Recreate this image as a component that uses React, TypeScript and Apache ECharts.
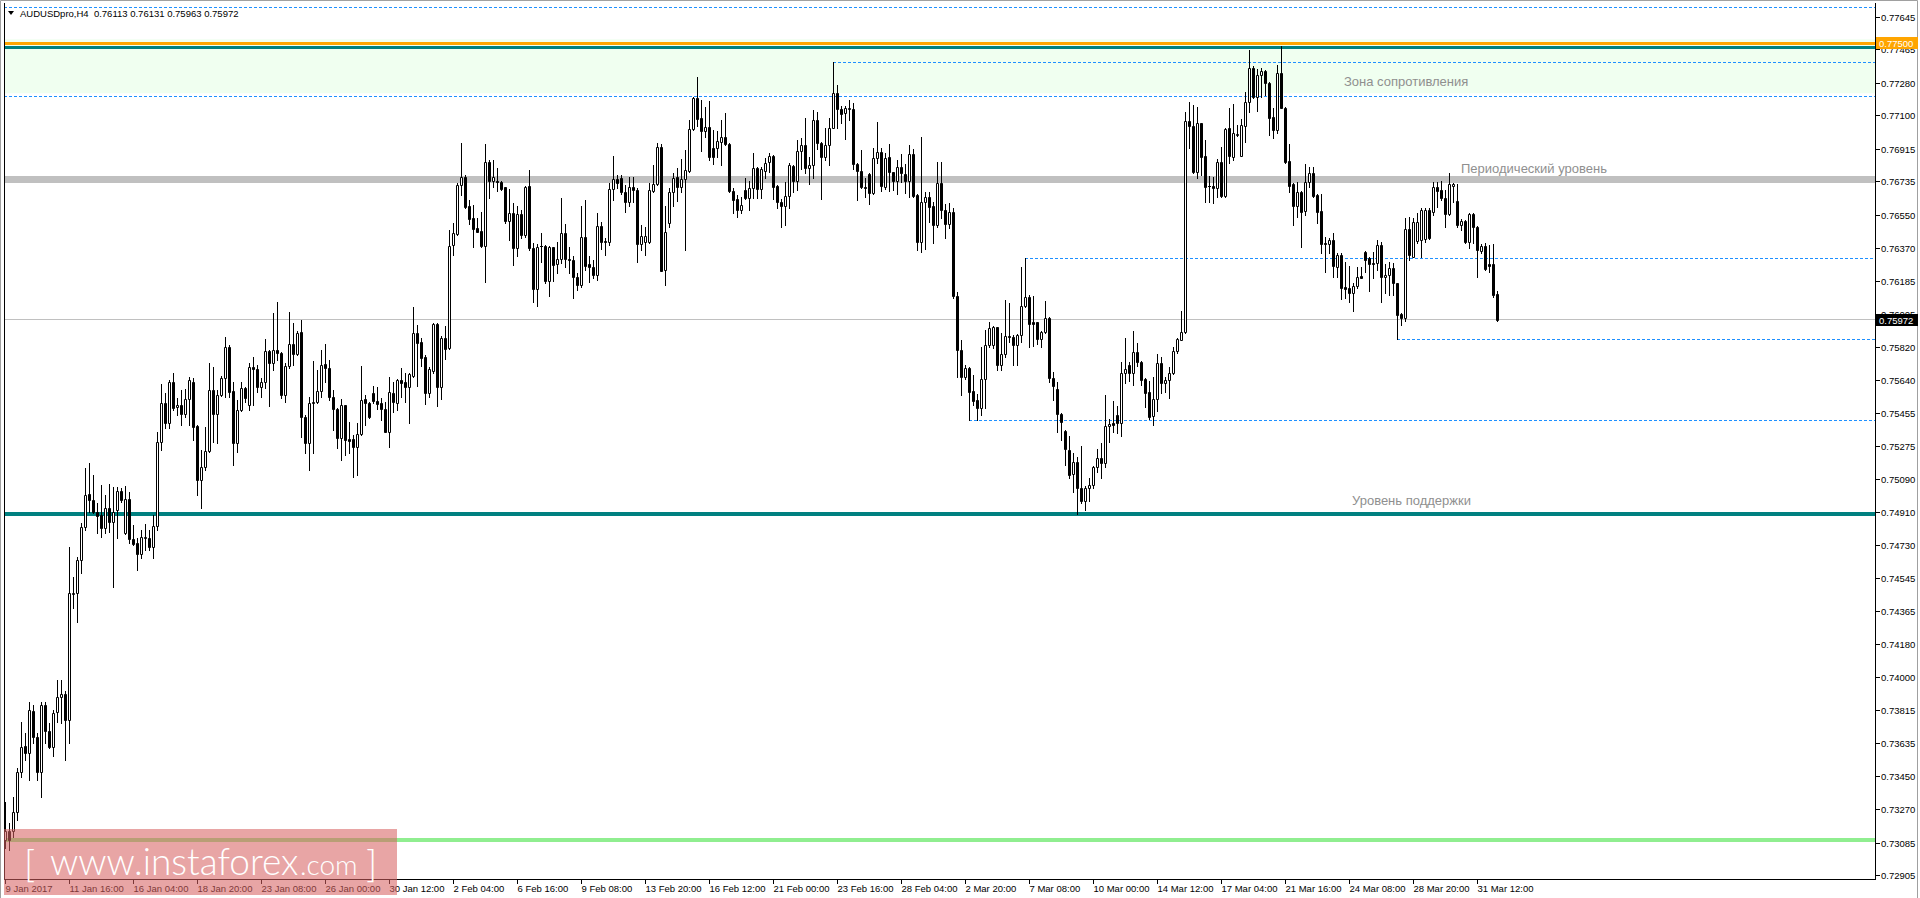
import { useEffect, useRef } from "react";
import * as echarts from "echarts";

// Prices in points (price × 100000), one value per H4 bar
const openPts = [
  73100,73146,73146,73256,73477,73619,73582,73812,73670,73477,
  73845,73698,73615,73808,73887,73906,73762,74458,74461,74645,
  74829,75010,74977,74912,74894,74820,74931,74857,74921,75026,
  74793,74982,74759,74737,74679,74769,74765,74719,74835,75299,
  75514,75403,75626,75488,75501,75449,75534,75630,75385,75087,
  75161,75249,75584,75451,75556,75648,75823,75580,75293,75473,
  75593,75501,75713,75698,75599,75626,75799,75731,75805,75786,
  75556,75716,75836,75781,75902,75433,75289,75510,75516,75578,
  75727,75703,75547,75477,75317,75499,75311,75311,75267,75339,
  75532,75510,75565,75525,75510,75477,75354,75565,75514,75639,
  75630,75602,75663,75897,75847,75764,75569,75691,75948,75602,
  75869,75814,76384,76445,76715,76761,76599,76531,76476,76461,
  76379,76844,76740,76738,76731,76703,76519,76560,76370,76556,
  76437,76711,76367,76144,76378,76380,76188,76372,76278,76306,
  76449,76308,76300,76207,76161,76427,76280,76262,76216,76490,
  76405,76402,76694,76749,76755,76676,76624,76707,76689,76389,
  76400,76400,76685,76722,76928,76247,76505,76676,76762,76703,
  76751,76795,77023,77195,77084,77016,77035,76919,76919,76952,
  76979,76941,76685,76637,76575,76689,76646,76698,76808,76694,
  76795,76841,76876,76711,76624,76597,76657,76821,76740,76904,
  76937,76808,76827,77075,76946,76869,76937,77033,77222,77134,
  77112,77138,77136,76830,76795,76705,76775,76670,76863,76900,
  76707,76869,76786,76735,76814,76777,76740,76887,76661,76403,
  76621,76648,76600,76492,76729,76578,76501,76569,76103,75805,
  75658,75704,75579,75529,75483,75643,75833,75833,75930,75722,
  75783,75882,75879,75833,75888,76050,76096,75958,75958,75864,
  75906,75980,75649,75588,75450,75358,75253,75119,75185,75041,
  74968,75041,75060,75157,75207,75179,75385,75400,75443,75400,
  75680,75722,75676,75792,75737,75643,75571,75441,75533,75731,
  75621,75639,75680,75801,75860,75906,77071,77041,76789,77056,
  76876,76712,76710,76697,76841,76657,77028,76868,76993,76878,
  77043,77172,77360,77200,77323,77347,77277,77089,77019,77332,
  77142,76848,76719,76602,76675,76572,76730,76780,76660,76572,
  76397,76390,76412,76265,76329,76154,76145,76118,76158,76213,
  76348,76311,76287,76283,76384,76206,76219,76259,76173,76004,
  75980,76473,76320,76408,76412,76418,76578,76568,76706,76688,
  76642,76556,76712,76627,76495,76517,76403,76554,76486,76353,
  76379,76280,76280,76113,
];
const highPts = [
  73306,73192,73339,73495,73753,73689,73863,73845,73689,73863,
  73863,73744,73817,73983,73983,73919,74719,74553,74664,74848,
  75151,75179,75115,74958,75059,75004,75065,75050,75050,75041,
  75056,75023,74839,74765,74811,74844,74811,74894,75354,75615,
  75565,75639,75676,75538,75584,75587,75657,75648,75391,75253,
  75381,75731,75709,75584,75661,75878,75832,75630,75529,75630,
  75602,75731,75768,75722,75648,75863,75805,76011,76071,75795,
  75731,76016,75952,75909,75970,75446,75547,75746,75694,75805,
  75838,75749,75584,75483,75532,75501,75405,75335,75400,75716,
  75556,75519,75606,75599,75538,75519,75657,75630,75642,75703,
  75676,75679,76044,75943,75869,75777,75713,75955,75955,75882,
  75937,76467,76504,76725,76945,76771,76633,76605,76531,76568,
  76942,76853,76854,76808,76735,76707,76692,76615,76597,76578,
  76711,76799,76394,76391,76449,76385,76380,76376,76400,76643,
  76501,76376,76321,76229,76597,76633,76321,76299,76560,76514,
  76422,76725,76876,76771,76771,76716,76759,76759,76698,76492,
  76486,76725,76827,76946,76943,76600,76698,76781,76808,76858,
  76909,77075,77200,77311,77185,77145,77182,77020,77014,77075,
  77112,76946,76698,76661,76652,76753,76738,76891,76817,76817,
  76867,76891,76882,76716,76637,76731,76836,76825,76965,76977,
  77088,76873,77130,77121,76955,77033,77084,77393,77268,77154,
  77152,77185,77167,76839,76909,76753,76784,76922,77062,76919,
  76891,76941,76790,76854,76885,76830,76937,76915,76665,76981,
  76676,76679,76624,76841,76841,76609,76615,76587,76127,75861,
  75723,75713,75667,75561,75823,75915,75961,75938,75934,75901,
  76081,76063,75888,75893,76261,76311,76109,76103,75961,75912,
  76077,75989,75685,75630,75455,75363,75330,75238,75213,75275,
  75051,75097,75165,75257,75293,75557,75422,75525,75496,75741,
  75869,75741,75910,75842,75746,75649,75634,75658,75783,75768,
  75658,75713,75823,75869,76020,77121,77176,77157,77145,77060,
  76964,76765,76762,76857,76927,77029,77139,77163,77047,77080,
  77231,77461,77372,77354,77360,77350,77286,77139,77378,77483,
  77148,76942,76725,76734,76682,76832,76817,76817,76666,76666,
  76430,76421,76452,76338,76338,76292,76268,76176,76265,76265,
  76353,76320,76348,76412,76403,76280,76292,76283,76177,76007,
  76532,76541,76532,76559,76587,76587,76587,76734,76734,76740,
  76688,76780,76728,76721,76526,76522,76559,76559,76491,76388,
  76394,76384,76390,76131,
];
const lowPts = [
  73054,73045,73118,73210,73449,73541,73431,73633,73431,73339,
  73633,73606,73560,73753,73744,73541,73633,74379,74305,74572,
  74811,74912,74903,74793,74774,74793,74802,74498,74765,74967,
  74789,74737,74728,74587,74655,74701,74701,74655,74811,75253,
  75372,75372,75473,75446,75391,75437,75391,75308,75004,74931,
  75142,75243,75299,75289,75550,75547,75547,75170,75243,75468,
  75519,75473,75501,75575,75547,75593,75495,75694,75749,75538,
  75519,75703,75722,75777,75326,75238,75142,75238,75510,75547,
  75630,75529,75363,75262,75197,75225,75234,75102,75115,75335,
  75391,75427,75514,75477,75418,75350,75267,75464,75473,75547,
  75519,75403,75654,75606,75716,75507,75547,75679,75495,75532,
  75753,75808,76329,76439,76660,76587,76500,76375,76455,76375,
  76182,76642,76703,76685,76689,76505,76413,76275,76321,76425,
  76431,76357,76069,76045,76293,76177,76103,76183,76229,76287,
  76265,76229,76091,76137,76151,76247,76179,76201,76192,76361,
  76330,76385,76633,76698,76667,76569,76597,76624,76293,76357,
  76330,76394,76679,76716,76238,76164,76483,76597,76630,76679,
  76357,76790,77020,77042,76906,76983,76854,76830,76873,76827,
  76937,76679,76560,76541,76560,76639,76575,76646,76646,76646,
  76757,76786,76639,76587,76481,76495,76587,76679,76689,76803,
  76781,76720,76753,76915,76639,76854,76827,77029,77033,77057,
  76970,77075,76805,76633,76698,76648,76609,76665,76836,76685,
  76692,76685,76689,76665,76731,76670,76648,76652,76354,76348,
  76363,76510,76398,76486,76536,76425,76477,76094,75658,75557,
  75643,75419,75502,75419,75446,75483,75820,75814,75695,75695,
  75765,75851,75722,75722,75851,76044,75823,75827,75838,75823,
  75901,75630,75529,75354,75305,75170,75097,75023,74900,74962,
  74922,74968,75041,75133,75100,75157,75299,75349,75345,75327,
  75621,75634,75612,75717,75612,75489,75422,75391,75470,75569,
  75575,75538,75673,75787,75857,75897,76918,76780,76753,76771,
  76624,76624,76615,76651,76651,76651,76839,76854,76986,76874,
  76955,77120,77194,77126,77203,77212,76992,76977,77001,77139,
  76835,76679,76495,76541,76375,76550,76706,76651,76504,76338,
  76234,76338,76210,76206,76086,76090,76072,76022,76145,76200,
  76237,76132,76200,76246,76072,76118,76108,76108,75866,75943,
  75967,76302,76316,76394,76320,76403,76418,76550,76596,76633,
  76486,76550,76624,76486,76467,76394,76366,76394,76210,76338,
  76246,76237,76099,75963,
];
const closePts = [
  73146,73100,73256,73477,73615,73582,73817,73670,73477,73845,
  73698,73615,73799,73891,73904,73762,74461,74461,74645,74829,
  75004,74977,74912,74888,74820,74931,74857,74912,75026,74977,
  74982,74759,74732,74679,74771,74773,74715,74835,75299,75514,
  75403,75626,75486,75501,75449,75534,75639,75381,75087,75161,
  75249,75584,75451,75556,75648,75823,75575,75289,75473,75593,
  75538,75709,75698,75599,75626,75799,75731,75805,75786,75556,
  75716,75836,75781,75900,75433,75289,75510,75519,75578,75720,
  75703,75547,75477,75317,75499,75308,75304,75267,75339,75529,
  75510,75433,75525,75507,75477,75354,75571,75519,75639,75624,
  75602,75672,75897,75841,75762,75569,75698,75948,75602,75873,
  75810,76381,76449,76715,76761,76596,76526,76473,76458,76379,
  76844,76739,76759,76731,76692,76519,76560,76370,76556,76437,
  76703,76367,76144,76372,76381,76188,76372,76275,76306,76449,
  76306,76300,76207,76161,76427,76271,76262,76216,76490,76403,
  76400,76694,76747,76725,76676,76624,76707,76689,76389,76435,
  76435,76689,76722,76928,76243,76455,76676,76757,76703,76751,
  76799,77023,77195,77079,77016,77035,76869,76869,76959,76979,
  76941,76685,76633,76575,76606,76646,76698,76808,76694,76805,
  76836,76876,76707,76621,76597,76657,76827,76740,76904,76937,
  76808,76827,77075,76946,76869,76937,77033,77222,77134,77106,
  77139,77141,76830,76795,76703,76701,76670,76863,76900,76711,
  76863,76786,76735,76814,76781,76740,76887,76657,76403,76621,
  76648,76593,76492,76729,76575,76501,76569,76100,75802,75658,
  75704,75575,75524,75483,75643,75833,75925,75934,75722,75783,
  75882,75875,75833,75888,76050,76096,75947,75949,75864,75906,
  75980,75649,75603,75450,75406,75257,75115,75185,75041,74968,
  75041,75060,75157,75207,75179,75387,75395,75391,75400,75680,
  75698,75676,75792,75737,75639,75566,75437,75533,75731,75621,
  75639,75680,75801,75864,75906,77071,77043,76789,77056,76872,
  76707,76709,76697,76841,76657,77025,76876,77001,76997,77047,
  77172,77360,77200,77323,77347,77277,77087,77019,77332,77142,
  76841,76712,76602,76675,76568,76730,76780,76657,76568,76390,
  76390,76412,76270,76329,76145,76140,76118,76158,76206,76204,
  76302,76280,76280,76384,76206,76219,76259,76173,75998,75980,
  76473,76329,76510,76513,76578,76578,76421,76706,76684,76642,
  76556,76719,76721,76495,76517,76403,76554,76486,76357,76379,
  76250,76268,76108,75972,
];

// Time axis labels (bar index where each label sits)
const timeTickBars = [0, 16, 32, 48, 64, 80, 96, 112, 128, 144, 160, 176, 192, 208, 224, 240, 256, 272, 288, 304, 320, 336, 352, 368];
const timeTickLabels = [
  "9 Jan 2017", "11 Jan 16:00", "16 Jan 04:00", "18 Jan 20:00", "23 Jan 08:00", "26 Jan 00:00",
  "30 Jan 12:00", "2 Feb 04:00", "6 Feb 16:00", "9 Feb 08:00", "13 Feb 20:00", "16 Feb 12:00",
  "21 Feb 00:00", "23 Feb 16:00", "28 Feb 04:00", "2 Mar 20:00", "7 Mar 08:00", "10 Mar 00:00",
  "14 Mar 12:00", "17 Mar 04:00", "21 Mar 16:00", "24 Mar 08:00", "28 Mar 20:00", "31 Mar 12:00",
];

// Price axis labels
const priceTicks = [
  0.72905, 0.73085, 0.7327, 0.7345, 0.73635, 0.73815, 0.74, 0.7418, 0.74365, 0.74545,
  0.7473, 0.7491, 0.7509, 0.75275, 0.75455, 0.7564, 0.7582, 0.76005, 0.76185, 0.7637,
  0.7655, 0.76735, 0.76915, 0.771, 0.7728, 0.77465, 0.77645,
];

// Header
const symbolTitle = "AUDUSDpro,H4";
const lastQuote = ["0.76113", "0.76131", "0.75963", "0.75972"];

// Levels drawn on the chart
const zoneTop = 0.7752;
const zoneBottom = 0.77222;
const orangeLevel = 0.775;
const tealTopLevel = 0.77479;
const topDashed = 0.77695;
const zoneDashedUpper = 0.77393;
const zoneDashedUpperFrom = 207;
const zoneDashedLower = 0.77205;
const periodicLevel = 0.76749;
const dashedMid = 0.76311;
const dashedMidFrom = 255;
const currentPrice = 0.75972;
const dashedLowA = 0.75866;
const dashedLowAFrom = 348;
const dashedLowB = 0.75419;
const dashedLowBFrom = 241;
const supportLevel = 0.74903;
const bottomLevel = 0.7310;

const annotationZone = "Зона сопротивления";
const annotationPeriodic = "Периодический уровень";
const annotationSupport = "Уровень поддержки";

const X_MIN = -0.25;
const X_MAX = 467.5;
const Y_MIN = 0.728835;
const Y_MAX = 0.777206;

const AXIS_FONT = '"Liberation Sans", Arial, sans-serif';

export default function App() {
  const ref = useRef<HTMLDivElement>(null);

  useEffect(() => {
    const chart = echarts.init(ref.current!, undefined, { renderer: "svg" });
    const candles = openPts.map((o, i) => [i, o / 1e5, highPts[i] / 1e5, lowPts[i] / 1e5, closePts[i] / 1e5]);

    const dashStyle = { type: [3, 2], color: "#1e90ff", width: 1 };
    const seg = (from: number, v: number, style: any) => [
      { coord: [from, v], lineStyle: style },
      { coord: [X_MAX, v], lineStyle: style },
    ];
    const full = (v: number, style: any) => seg(X_MIN, v, style);

    const renderCandle = (params: any, api: any) => {
      const i = api.value(0);
      const o = api.value(1);
      const h = api.value(2);
      const l = api.value(3);
      const c = api.value(4);
      const x = api.coord([i, o])[0];
      const yo = api.coord([i, o])[1];
      const yc = api.coord([i, c])[1];
      const yh = api.coord([i, Math.max(h, o, c)])[1];
      const yl = api.coord([i, Math.min(l, o, c)])[1];
      const k = Math.floor(x);
      const cx = k + 0.5;
      const top = Math.round(Math.min(yo, yc));
      const bot = Math.round(Math.max(yo, yc));
      const bull = c >= o;
      const children: any[] = [
        {
          type: "line",
          shape: { x1: cx, y1: Math.round(yh), x2: cx, y2: Math.round(yl) + 1 },
          style: { stroke: "#000", lineWidth: 1 },
        },
      ];
      if (bot - top >= 1) {
        children.push({
          type: "rect",
          shape: { x: cx - 1, y: top + 0.5, width: 2, height: bot - top },
          style: { fill: bull ? "#fff" : "#000", stroke: "#000", lineWidth: 1 },
        });
      } else {
        children.push({
          type: "line",
          shape: { x1: k - 1, y1: top + 0.5, x2: k + 2, y2: top + 0.5 },
          style: { stroke: "#000", lineWidth: 1 },
        });
      }
      return { type: "group", children };
    };

    chart.setOption({
      animation: false,
      grid: { left: 4, right: 45, top: 3, bottom: 19, show: false },
      xAxis: { type: "value", min: X_MIN, max: X_MAX, show: false },
      yAxis: { type: "value", min: Y_MIN, max: Y_MAX, show: false },
      series: [
        {
          type: "line",
          data: [],
          z: 1,
          silent: true,
          markArea: {
            silent: true,
            itemStyle: { color: "#f0fff0" },
            data: [[{ coord: [X_MIN, zoneTop] }, { coord: [X_MAX, zoneBottom] }]],
          },
        },
        {
          type: "line",
          data: [],
          z: 2,
          silent: true,
          markLine: {
            silent: true,
            precision: 6,
            symbol: ["none", "none"],
            label: { show: false },
            emphasis: { disabled: true },
            data: [
              full(periodicLevel, { color: "#c0c0c0", width: 7, type: "solid" }),
              full(currentPrice, { color: "#c0c0c0", width: 1, type: "solid" }),
              full(topDashed, dashStyle),
              full(zoneDashedLower, dashStyle),
              seg(zoneDashedUpperFrom, zoneDashedUpper, dashStyle),
              seg(dashedMidFrom, dashedMid, dashStyle),
              seg(dashedLowAFrom, dashedLowA, dashStyle),
              seg(dashedLowBFrom, dashedLowB, dashStyle),
              full(orangeLevel, { color: "#ffa500", width: 3, type: "solid" }),
              full(tealTopLevel, { color: "#008080", width: 3, type: "solid" }),
              full(supportLevel, { color: "#008080", width: 4, type: "solid" }),
              full(bottomLevel, { color: "#90ee90", width: 4, type: "solid" }),
            ],
          },
        },
        {
          type: "custom",
          z: 10,
          silent: true,
          clip: true,
          data: candles,
          encode: { x: 0, y: [1, 2, 3, 4] },
          renderItem: renderCandle,
        },
      ],
    });

    const px = (v: number) => chart.convertToPixel({ xAxisIndex: 0 }, v) as number;
    const py = (v: number) => chart.convertToPixel({ yAxisIndex: 0 }, v) as number;

    const left = 4.5;
    const right = 1875.5;
    const bottom = 879.5;
    const els: any[] = [];

    // outer frame
    els.push({
      type: "polyline",
      z: 50,
      shape: { points: [[0.5, 898], [0.5, 0.5], [1917.5, 0.5], [1917.5, 898]] },
      style: { stroke: "#a0a0a0", fill: null, lineWidth: 1 },
    });
    // plot frame
    els.push({ type: "line", z: 50, shape: { x1: left, y1: 3, x2: left, y2: bottom }, style: { stroke: "#000", lineWidth: 1 } });
    els.push({ type: "line", z: 50, shape: { x1: 4, y1: bottom, x2: right, y2: bottom }, style: { stroke: "#000", lineWidth: 1 } });
    els.push({ type: "line", z: 50, shape: { x1: right, y1: 3, x2: right, y2: bottom + 0.5 }, style: { stroke: "#000", lineWidth: 1 } });

    // price axis
    priceTicks.forEach((p) => {
      const y = Math.round(py(p)) + 0.5;
      els.push({ type: "line", z: 50, shape: { x1: 1876, y1: y, x2: 1880, y2: y }, style: { stroke: "#000", lineWidth: 1 } });
      els.push({
        type: "text", z: 51, x: 1881, y,
        style: { text: p.toFixed(5), fill: "#000", fontSize: 9.5, fontFamily: AXIS_FONT, align: "left", verticalAlign: "middle" },
      });
    });

    // time axis
    timeTickBars.forEach((b, idx) => {
      const x = Math.floor(px(b)) + 0.5;
      els.push({ type: "line", z: 50, shape: { x1: x, y1: 880, x2: x, y2: 884 }, style: { stroke: "#000", lineWidth: 1 } });
      els.push({
        type: "text", z: 51, x: x, y: 888,
        style: { text: timeTickLabels[idx], fill: "#000", fontSize: 9.5, fontFamily: AXIS_FONT, align: "left", verticalAlign: "middle" },
      });
    });

    // price tags
    const tag = (p: number, bg: string) => {
      const y = Math.round(py(p));
      els.push({ type: "rect", z: 60, shape: { x: 1876, y: y - 6, width: 42, height: 12 }, style: { fill: bg } });
      els.push({
        type: "text", z: 61, x: 1879, y: y + 0.5,
        style: { text: p.toFixed(5), fill: "#fff", fontSize: 9.5, fontFamily: AXIS_FONT, align: "left", verticalAlign: "middle" },
      });
    };
    tag(orangeLevel, "#ffa500");
    tag(currentPrice, "#000");

    // header
    els.push({ type: "polygon", z: 55, shape: { points: [[8, 11], [14, 11], [11, 15]] }, style: { fill: "#000" } });
    els.push({
      type: "text", z: 55, x: 20, y: 13,
      style: {
        text: symbolTitle + "  " + lastQuote.join(" "),
        fill: "#000", fontSize: 9.5, fontFamily: AXIS_FONT, align: "left", verticalAlign: "middle",
      },
    });

    // annotations
    const note = (text: string, x: number, y: number) =>
      els.push({
        type: "text", z: 55, x, y,
        style: { text, fill: "#8f8f8f", fontSize: 13, fontFamily: AXIS_FONT, align: "left", verticalAlign: "middle" },
      });
    note(annotationZone, 1344, 81);
    note(annotationPeriodic, 1461, 168);
    note(annotationSupport, 1352, 500);

    // watermark
    els.push({ type: "rect", z: 100, shape: { x: 4, y: 829, width: 393, height: 66 }, style: { fill: "rgba(215,97,97,0.57)" } });
    const wm = (text: string, x: number, y: number, size: number) =>
      els.push({
        type: "text", z: 101, x, y,
        style: { text, fill: "#ffffff", fontSize: size, fontWeight: 300, fontFamily: "Lato, 'Open Sans', sans-serif", align: "left", verticalAlign: "middle" },
      });
    wm("[", 24, 862, 38);
    wm("www.instaforex", 50, 860, 37);
    wm(".com", 300, 864, 28);
    wm("]", 366, 862, 38);

    chart.setOption({ graphic: { elements: els } });

    return () => chart.dispose();
  }, []);

  return (
    <div
      ref={ref}
      style={{ position: "fixed", left: 0, top: 0, width: 1920, height: 898, background: "#fff" }}
    />
  );
}
